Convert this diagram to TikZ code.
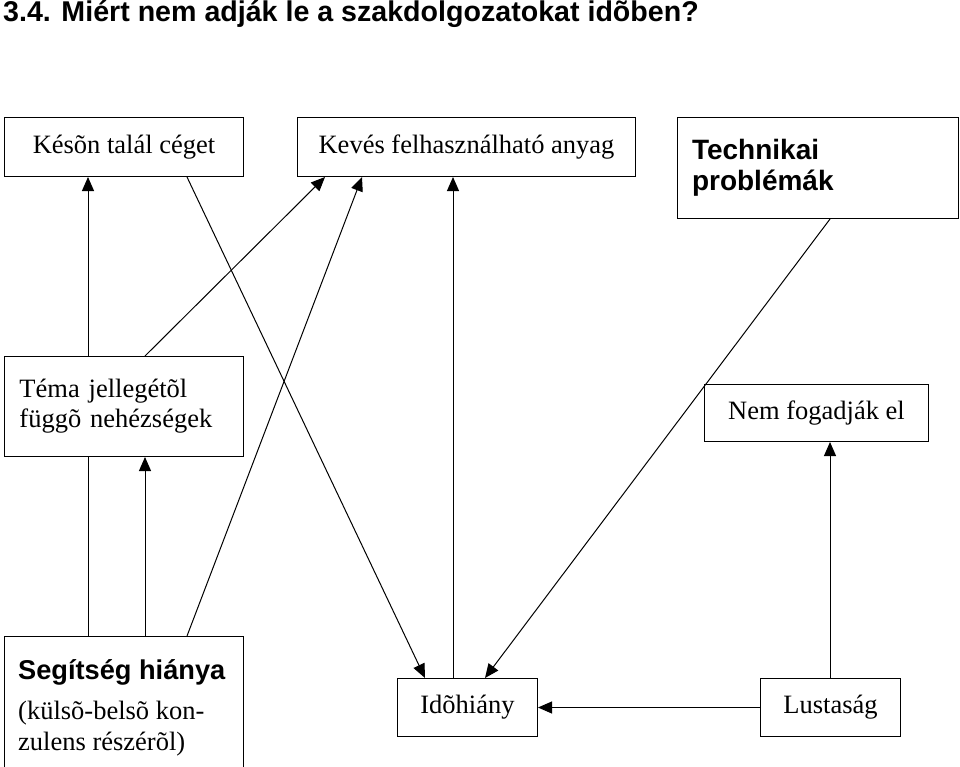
\documentclass[tikz,border=0pt]{standalone}
\usepackage{fontspec}
\setmainfont{Liberation Serif}
\setsansfont{Liberation Sans}
\usetikzlibrary{arrows.meta}
\begin{document}
\begin{tikzpicture}[x=1pt,y=-1pt,
  box/.style={draw,line width=1pt,anchor=north west,inner sep=0pt,font=\fontsize{26.5}{30}\selectfont},
  sbox/.style={box,font=\sffamily\bfseries\fontsize{28}{31}\selectfont},
  arr/.style={line width=1pt,-{Triangle[length=14pt,width=12pt]}},
  ln/.style={line width=1pt}]
\useasboundingbox (0,0) rectangle (960,766);
\clip (0,0) rectangle (960,766);
\node[anchor=north west,inner sep=0pt,font=\sffamily\bfseries\fontsize{28.6}{30}\selectfont] (title) at (3,0) {3.4. Miért nem adják le a szakdolgozatokat idõben?};
\node[box,minimum width=239pt,minimum height=59pt] (kes) at (4,117) {Késõn talál céget};
\node[box,minimum width=338pt,minimum height=59pt] (kev) at (297,117) {Kevés felhasználható anyag};
\node[sbox,minimum width=281pt,minimum height=101pt,align=left,text width=252pt] (tech) at (677,117) {Technikai\\problémák};
\node[box,minimum width=239pt,minimum height=100pt,align=left,text width=209pt] (tema) at (4,356) {Téma jellegétõl\\függõ nehézségek};
\node[box,minimum width=224pt,minimum height=57pt] (nem) at (704,384) {Nem fogadják el};
\node[box,minimum width=239pt,minimum height=140pt] (seg) at (4,636) {};
\node[anchor=north west,inner sep=0pt,align=left,font=\fontsize{26.5}{31}\selectfont] (segt) at (18,659) {{\sffamily\bfseries\fontsize{27.2}{31}\selectfont Segítség hiánya}\\[9pt](külsõ-belsõ kon-\\zulens részérõl)};
\node[box,minimum width=140pt,minimum height=58pt] (ido) at (397,678) {Idõhiány};
\node[box,minimum width=140pt,minimum height=58pt] (lus) at (760,678) {Lustaság};
\coordinate (x88) at (88,0);
\coordinate (x145) at (145,0);
\coordinate (x187) at (187,0);
\coordinate (x325) at (325,0);
\coordinate (x362) at (362,0);
\coordinate (x425) at (425,0);
\coordinate (x453) at (453,0);
\coordinate (x485) at (485,0);
\coordinate (x830) at (830,0);
\draw[arr] (tema.north -| x88) -- (kes.south -| x88);
\draw[ln] (seg.north -| x88) -- (tema.south -| x88);
\draw[arr] (seg.north -| x145) -- (tema.south -| x145);
\draw[arr] (tema.north -| x145) -- (kev.south -| x325);
\draw[arr] (seg.north -| x187) -- (kev.south -| x362);
\draw[arr] (kes.south -| x187) -- (ido.north -| x425);
\draw[arr] (ido.north -| x453) -- (kev.south -| x453);
\draw[arr] (tech.south -| x830) -- (ido.north -| x485);
\draw[arr] (lus.west) -- (ido.east);
\draw[arr] (lus.north -| x830) -- (nem.south -| x830);
\end{tikzpicture}
\end{document}
